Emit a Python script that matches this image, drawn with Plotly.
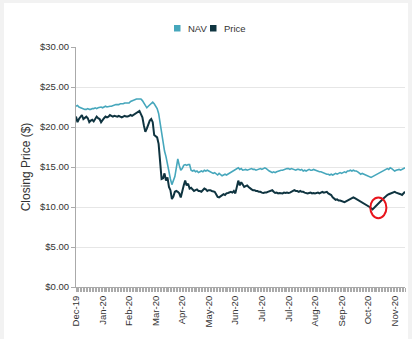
import plotly.graph_objects as go

# ---- data ----
month_labels = ["Dec-19", "Jan-20", "Feb-20", "Mar-20", "Apr-20", "May-20", "Jun-20",
                "Jul-20", "Jul-20", "Aug-20", "Sep-20", "Oct-20", "Nov-20"]
label_every = 18

nav = [
    22.6, 22.7, 22.5, 22.4, 22.3, 22.3, 22.2, 22.2, 22.3, 22.2, 22.2, 22.3, 22.3, 22.4, 22.3, 22.4, 22.5, 22.5,
    22.4, 22.5, 22.6, 22.5, 22.6, 22.6, 22.6, 22.7, 22.7, 22.8, 22.8, 22.8, 22.9, 22.9, 22.9, 23.0, 23.0, 23.0,
    23.0, 23.2, 23.3, 23.4, 23.4, 23.5, 23.5, 23.5, 23.5, 23.3, 23.0, 22.7, 22.4, 22.6, 22.8, 23.0, 23.1, 22.9,
    22.6, 22.3, 21.7, 20.5, 19.2, 18.0, 17.0, 16.3, 15.3, 14.2, 13.5, 12.8, 13.3, 13.8, 14.9, 16.0, 15.2, 14.6,
    14.8, 15.2, 15.3, 15.2, 15.3, 15.3, 14.6, 14.5, 14.6, 14.4, 14.5, 14.3, 14.4, 14.5, 14.4, 14.6, 14.5, 14.6,
    14.5, 14.4, 14.4, 14.2, 14.3, 14.1, 14.0, 14.2, 14.1, 13.9, 14.0, 14.1, 14.0, 14.1, 14.2, 14.3, 14.4, 14.5,
    14.6, 14.8, 14.9, 14.7, 14.8, 14.6, 14.7, 14.7, 14.6, 14.7, 14.7, 14.8, 14.7, 14.7, 14.6, 14.7, 14.8, 14.8,
    14.7, 14.8, 14.9, 14.8, 14.6, 14.5, 14.4, 14.3, 14.4, 14.3, 14.4, 14.5, 14.5, 14.6, 14.6, 14.7, 14.7, 14.8,
    14.8, 14.7, 14.8, 14.7, 14.7, 14.6, 14.7, 14.7, 14.6, 14.7, 14.5, 14.6, 14.5, 14.6, 14.7, 14.6, 14.6, 14.7,
    14.6, 14.5, 14.5, 14.4, 14.4, 14.3, 14.3, 14.2, 14.1, 14.1, 14.0, 14.1, 14.0, 14.1, 14.2, 14.1, 14.2, 14.3,
    14.2, 14.3, 14.4, 14.3, 14.5, 14.5, 14.6, 14.5, 14.6, 14.5, 14.5, 14.4, 14.2, 14.1, 14.2, 14.1, 14.0, 13.9,
    13.8, 13.8, 13.7, 13.8, 13.9, 14.0, 14.1, 14.2, 14.2, 14.4, 14.5, 14.6, 14.6, 14.8, 14.7, 14.9, 14.8, 14.6,
    14.5, 14.6, 14.7, 14.7, 14.6, 14.7, 14.8, 14.9,
]

price = [
    21.3, 20.6, 21.0, 21.3, 21.5, 21.0, 21.2, 21.3, 21.1, 20.6, 20.8, 20.9, 20.7, 21.0, 21.3, 21.1, 21.0, 20.6,
    20.9, 21.1, 21.3, 21.2, 21.3, 21.5, 21.4, 21.3, 21.4, 21.3, 21.3, 21.4, 21.3, 21.2, 21.3, 21.4, 21.3, 21.3,
    21.4, 21.5, 21.4, 21.5, 21.7, 21.8, 21.9, 22.0, 21.6, 21.2, 20.2, 19.4, 19.8, 20.4, 20.8, 21.0, 20.6, 19.0,
    18.9, 18.7, 17.9, 15.0, 13.5, 13.6, 14.2, 13.3, 13.7, 12.5, 12.1, 11.0, 11.3, 11.9, 12.0, 11.9, 11.7, 11.2,
    12.1, 12.7, 13.3, 12.7, 12.9, 12.3, 12.4, 12.2, 12.0, 12.1, 12.2, 12.0, 12.0, 11.9, 12.1, 12.3, 12.2, 12.0,
    12.1, 12.1, 12.0, 11.9, 11.9, 11.6, 11.25, 11.2, 11.3, 11.4, 11.6, 11.5, 11.7, 11.75, 11.8, 11.9, 11.8, 12.0,
    11.7, 12.4, 13.3, 12.7, 13.1, 12.8, 12.5, 12.6, 12.7, 12.5, 12.3, 12.2, 12.1, 12.1, 12.0, 12.0, 11.9, 11.9,
    11.8, 11.75, 11.8, 11.8, 11.9, 12.0, 12.1, 12.1, 11.9, 11.75, 11.8, 11.7, 11.75, 11.75, 11.7, 11.8, 11.75, 11.8,
    11.75, 11.8, 11.9, 12.0, 12.1, 12.0, 12.0, 11.9, 12.0, 11.9, 11.9, 11.8, 11.75, 11.7, 11.75, 11.8, 11.7, 11.75,
    11.7, 11.75, 11.8, 11.7, 11.8, 11.9, 11.8, 11.9, 11.9, 11.7, 11.6, 11.5, 11.2, 11.0, 10.9, 10.95, 10.8, 10.8,
    10.75, 10.7, 10.6, 10.7, 10.8, 10.9, 11.0, 11.1, 11.2, 11.1, 11.0, 10.8, 10.7, 10.6, 10.5, 10.45, 10.4, 10.3,
    10.2, 10.0, 9.85, 9.7, None, None, None, None, None, None, 11.0, 11.2, 11.3, 11.5, 11.6, 11.7, 11.8, 11.9,
    11.9, 11.8, 11.75, 11.7, 11.6, 11.5, 11.7, 11.9,
]

series_names = ["NAV", "Price"]
series_colors = ["#46a7bc", "#0f3440"]

# ---- figure ----
W, H = 412, 339
ML, MR, MT, MB = 76, 7, 47, 52
PW, PH = W - ML - MR, H - MT - MB

def px_to_paper_x(px):
    return (px - ML) / PW

def px_to_paper_y(py):
    return (H - MB - py) / PH

idx = list(range(len(nav)))

fig = go.Figure()
fig.add_trace(go.Scatter(x=idx, y=nav, mode="lines", name=series_names[0],
                         line=dict(color=series_colors[0], width=1.6), showlegend=False))
fig.add_trace(go.Scatter(x=idx, y=price, mode="lines", name=series_names[1], connectgaps=True,
                         line=dict(color=series_colors[1], width=2), showlegend=False))

tickvals = [i * label_every for i in range(len(month_labels))]

fig.update_layout(
    width=W, height=H,
    margin=dict(l=ML, r=MR, t=MT, b=MB, pad=0),
    paper_bgcolor="#f2f2f2",
    plot_bgcolor="white",
    font=dict(family="Liberation Sans, Arial, sans-serif", color="#333333"),
    showlegend=False,
)

fig.update_xaxes(
    range=[0, len(nav) - 1],
    tickmode="array", tickvals=tickvals, ticktext=month_labels,
    tickangle=-90, tickfont=dict(size=9.5, color="#333333"),
    ticks="outside", ticklen=4, tickcolor="#aaaaaa", tickwidth=1,
    minor=dict(tickmode="linear", tick0=0, dtick=1, ticks="outside", ticklen=4,
               tickcolor="#aaaaaa", tickwidth=1, showgrid=False),
    showgrid=False, zeroline=False,
    showline=True, linecolor="#aaaaaa", linewidth=1,
)

fig.update_yaxes(
    range=[0, 30], dtick=5, tick0=0,
    tickprefix="$", tickformat=".2f",
    tickfont=dict(size=9.5, color="#333333"),
    ticks="outside", ticklen=4, tickcolor="#aaaaaa",
    showgrid=True, gridcolor="#e6e6e6", gridwidth=1,
    zeroline=False,
    showline=True, linecolor="#aaaaaa", linewidth=1,
    title=dict(text="Closing Price ($)", font=dict(size=12, color="#333333"), standoff=6),
)

shapes = [
    # white card over light grey page
    dict(type="rect", xref="paper", yref="paper",
         x0=px_to_paper_x(4), x1=px_to_paper_x(408),
         y0=px_to_paper_y(H + 5), y1=px_to_paper_y(3),
         fillcolor="white", line=dict(width=0), layer="below"),
    # legend squares
    dict(type="rect", xref="paper", yref="paper",
         x0=px_to_paper_x(174), x1=px_to_paper_x(180.5),
         y0=px_to_paper_y(31.5), y1=px_to_paper_y(25),
         fillcolor=series_colors[0], line=dict(width=0)),
    dict(type="rect", xref="paper", yref="paper",
         x0=px_to_paper_x(210), x1=px_to_paper_x(216.5),
         y0=px_to_paper_y(31.5), y1=px_to_paper_y(25),
         fillcolor=series_colors[1], line=dict(width=0)),
    # red highlight ellipse around the gap in the Price line
    dict(type="circle", xref="x", yref="y",
         x0=199.5, x1=210.4, y0=8.6, y1=11.2,
         line=dict(color="#e8141c", width=2), fillcolor="rgba(0,0,0,0)"),
]
fig.update_layout(shapes=shapes)

fig.add_annotation(text=series_names[0], xref="paper", yref="paper",
                   x=px_to_paper_x(185.5), y=px_to_paper_y(28.5), xanchor="left", yanchor="middle",
                   showarrow=False, font=dict(size=9.5, color="#333333"))
fig.add_annotation(text=series_names[1], xref="paper", yref="paper",
                   x=px_to_paper_x(221.5), y=px_to_paper_y(28.5), xanchor="left", yanchor="middle",
                   showarrow=False, font=dict(size=9.5, color="#333333"))

fig.write_html("out.html")
